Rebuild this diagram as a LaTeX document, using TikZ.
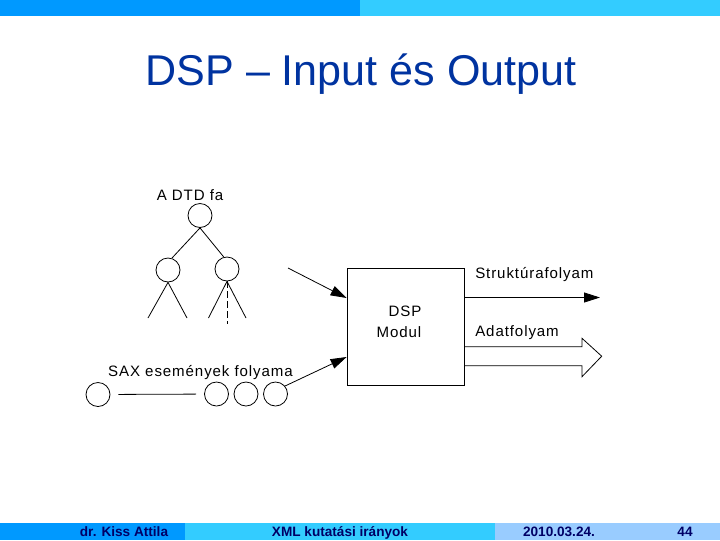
\documentclass[tikz,border=0pt]{standalone}
\usepackage{fontspec}
\setmainfont{Liberation Sans}
\newfontfamily\diagfont[LetterSpace=6]{Liberation Sans}
\usetikzlibrary{arrows.meta,calc}
\definecolor{barblue}{RGB}{0,153,255}
\definecolor{barlight}{RGB}{51,204,255}
\definecolor{barpale}{RGB}{153,204,255}
\definecolor{titleblue}{RGB}{0,51,160}
\definecolor{footnavy}{RGB}{0,0,102}
\begin{document}
\begin{tikzpicture}[x=0.75pt,y=-0.75pt,
  circ/.style={draw,circle,minimum size=18pt,inner sep=0pt,line width=0.6pt},
  lbl/.style={font=\diagfont\fontsize{11.3}{13}\selectfont,inner sep=0pt,anchor=base},
  foot/.style={font=\fontsize{10.2}{12}\selectfont\bfseries,text=footnavy,inner sep=0pt,anchor=base},
  ln/.style={line width=0.6pt},
  arr/.style={line width=0.6pt,-{Triangle[length=12pt,width=7.5pt]}}]
\useasboundingbox (0,0) rectangle (720,540);
\fill[white] (0,0) rectangle (720,540);
% top bar
\fill[barblue] (0,0) rectangle (360,16);
\fill[barlight] (360,0) rectangle (720,16);
% bottom bar
\fill[barblue] (0,522.5) rectangle (185,540);
\fill[barlight] (185,522.5) rectangle (495,540);
\fill[barpale] (495,522.5) rectangle (720,540);
\node[foot] (f1) at (124,536.5) {dr. Kiss Attila};
\node[foot] (f2) at (340,536.5) {XML kutatási irányok};
\node[foot] (f3) at (559,536.5) {2010.03.24.};
\node[foot] (f4) at (685,536.5) {44};
% title
\node[anchor=base,inner sep=0pt,text=titleblue,font=\fontsize{32.3}{40}\selectfont] (title) at (361,85) {DSP – Input és Output};
% tree
\node[lbl] (dtd) at (190,200.7) {A DTD fa};
\node[circ] (root) at (200,215.5) {};
\node[circ] (cl) at (168,270) {};
\node[circ] (cr) at (227,269) {};
\draw[ln] (root.south) -- (cl.72);
\draw[ln] (root.south) -- (cr.105);
\coordinate (l1) at (148,318);
\coordinate (l2) at (187,318);
\coordinate (l3) at (208.5,318);
\coordinate (l4) at (246,318);
\coordinate (l5) at (227,324);
\draw[ln] (cl.south) -- (l1);
\draw[ln] (cl.south) -- (l2);
\draw[ln] (cr.south) -- (l3);
\draw[ln] (cr.south) -- (l4);
\draw[ln,dashed,dash pattern=on 5pt off 2.5pt] (cr.south) -- (l5);
% DSP box
\node[draw,line width=0.6pt,minimum width=87.75pt,minimum height=87.75pt,inner sep=0pt] (dsp) at (405.5,326.5) {};
\node[lbl] (dsptxt) at (405,316.7) {DSP};
\node[lbl] (modtxt) at (399,337.3) {Modul};
% input arrows
\coordinate (in1) at (288,268);
\draw[arr] (in1) -- ($(dsp.west)+(0,-28.5)$);
% SAX stream
\node[lbl] (sax) at (200.5,376.7) {SAX események folyama};
\node[circ] (s1) at (98,394.5) {};
\node[circ] (s2) at (216.5,394) {};
\node[circ] (s3) at (246,394) {};
\node[circ] (s4) at (275.5,394) {};
\draw[ln,shorten <=6pt,shorten >=6pt] (s1) -- (s2);
\draw[arr] (s4.40) -- ($(dsp.west)+(0,30.5)$);
% outputs
\node[lbl,anchor=base west] (str) at (475,278.3) {Struktúrafolyam};
\coordinate (strend) at (600,297.5);
\draw[arr] ($(dsp.east)+(0,-29)$) -- (strend);
\node[lbl,anchor=base west] (adat) at (475,336.7) {Adatfolyam};
\coordinate (tip) at (601.7,356.2);
\draw[ln,line join=miter] ($(dsp.east)+(0,20.2)$) -- ($(tip)+(-19.7,-9.5)$) -- ($(tip)+(-19.7,-17.9)$) -- (tip) -- ($(tip)+(-19.7,20.5)$) -- ($(tip)+(-19.7,9.5)$) -- ($(dsp.east)+(0,39.2)$);
\end{tikzpicture}
\end{document}
